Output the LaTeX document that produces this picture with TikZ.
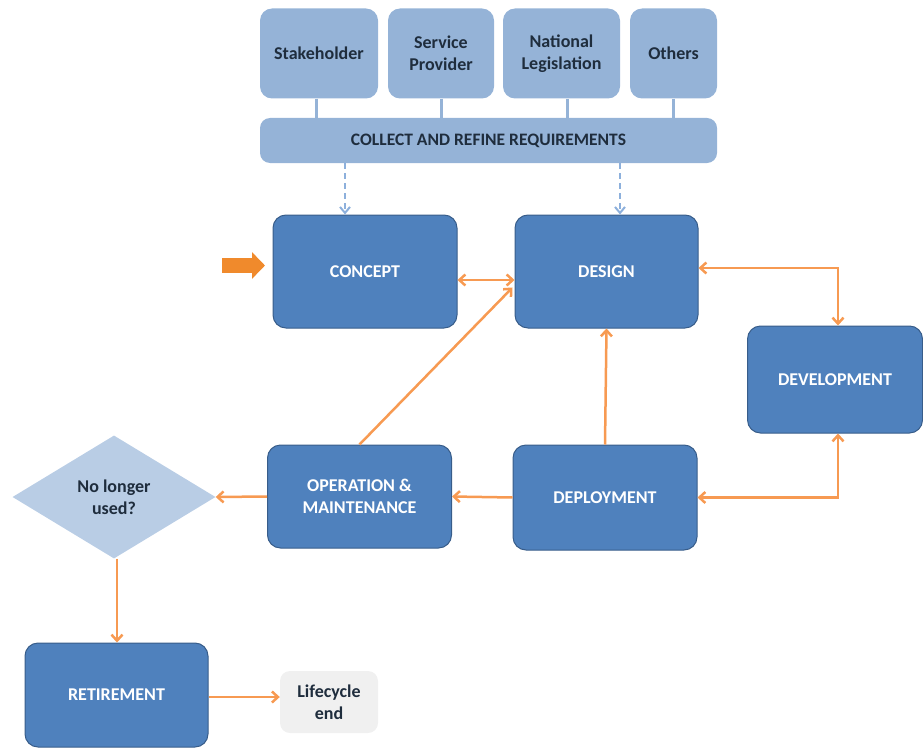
\documentclass[tikz,border=0pt]{standalone}
\usepackage{fontspec}
\setmainfont{Carlito}
\usetikzlibrary{shapes.geometric,arrows.meta,calc}
\definecolor{darkbox}{HTML}{4F81BD}
\definecolor{darkedge}{HTML}{385D8A}
\definecolor{lightbox}{HTML}{95B3D7}
\definecolor{paleblue}{HTML}{B9CDE5}
\definecolor{lighttext}{HTML}{1F2D3D}
\definecolor{flow}{HTML}{F79A52}
\definecolor{bigflow}{HTML}{F08A2C}
\definecolor{dashblue}{HTML}{8DB0DC}
\definecolor{endgray}{HTML}{F0F0F0}
\begin{document}
\begin{tikzpicture}[x=1pt,y=-1pt,
  phase/.style={draw=darkedge,line width=1pt,fill=darkbox,rounded corners=13pt,
    text=white,font=\bfseries\fontsize{18}{22}\selectfont,align=center,inner sep=0pt},
  source/.style={fill=lightbox,rounded corners=12pt,text=lighttext,
    font=\bfseries\fontsize{18}{22}\selectfont,align=center,inner sep=0pt,minimum height=90},
  feed/.style={draw=lightbox,line width=3pt},
  dasharrow/.style={draw=dashblue,line width=2pt,dashed,dash pattern=on 6pt off 4pt,
    -{Straight Barb[length=6pt,width=10pt]}},
  oarr/.style={draw=flow,line width=2.5pt,-{Straight Barb[length=6pt,width=11pt]}},
  oboth/.style={draw=flow,line width=2.5pt,{Straight Barb[length=6pt,width=11pt]}-{Straight Barb[length=6pt,width=11pt]}}]
\useasboundingbox (0,0) rectangle (923,749);

% requirement sources
\node[source,minimum width=118] (stake) at (319,53.5) {Stakeholder};
\node[source,minimum width=106] (prov) at (441,53.5) {Service\\Provider};
\node[source,minimum width=117] (legis) at (561.5,53.5) {National\\Legislation};
\node[source,minimum width=87] (others) at (673.5,53.5) {Others};
\node[fill=lightbox,rounded corners=10pt,text=lighttext,inner sep=0pt,
  minimum width=457,minimum height=45,font=\bfseries\fontsize{17.5}{20}\selectfont]
  (collect) at (488.5,140.5) {COLLECT AND REFINE REQUIREMENTS};

\coordinate (xs) at (316,0);
\coordinate (xp) at (441,0);
\coordinate (xl) at (567,0);
\coordinate (xo) at (673,0);
\draw[feed] (stake.south -| xs) -- (collect.north -| xs);
\draw[feed] (prov.south -| xp) -- (collect.north -| xp);
\draw[feed] (legis.south -| xl) -- (collect.north -| xl);
\draw[feed] (others.south -| xo) -- (collect.north -| xo);

% lifecycle phases
\node[phase,minimum width=184,minimum height=113] (concept) at (365,271.5) {CONCEPT};
\node[phase,minimum width=183,minimum height=113] (design) at (606.5,271.5) {DESIGN};
\node[phase,minimum width=175,minimum height=107] (dev) at (835,379.5) {DEVELOPMENT};
\node[phase,minimum width=184,minimum height=105] (deploy) at (605,497.5) {DEPLOYMENT};
\node[phase,minimum width=184,minimum height=103] (oper) at (359.5,496.5) {OPERATION \&\\MAINTENANCE};
\node[diamond,fill=paleblue,inner sep=0pt,minimum width=203,minimum height=123,
  text=lighttext,align=center,font=\bfseries\fontsize{18}{22}\selectfont]
  (unused) at (114,497) {No longer\\used?};
\node[phase,minimum width=183,minimum height=104] (retire) at (116.5,695) {RETIREMENT};
\node[fill=endgray,rounded corners=10pt,inner sep=0pt,minimum width=98,minimum height=62,
  text=lighttext,align=center,font=\bfseries\fontsize{18}{22}\selectfont]
  (finish) at (329,702) {Lifecycle\\end};

% requirements feeding concept and design
\coordinate (xc) at (345,0);
\coordinate (xd) at (620,0);
\draw[dasharrow] (collect.south -| xc) -- (concept.north -| xc);
\draw[dasharrow] (collect.south -| xd) -- (design.north -| xd);

% entry arrow
\coordinate (entry) at (222,265.5);
\coordinate (entrytip) at (265,265.5);
\draw[bigflow,line width=15pt,-{Triangle[length=13pt,width=26pt]}] (entry) -- (entrytip);

% flow between phases
\coordinate (yc) at (0,280);
\draw[oboth] (concept.east |- yc) -- (design.west |- yc);
\coordinate (yd) at (0,268);
\coordinate (xv) at (838,0);
\draw[oboth] (design.east |- yd) -| (dev.north -| xv);
\draw[oboth] (dev.south -| xv) |- (deploy.east);
\draw[oarr] (deploy.north) -- (design.south);
\draw[oarr] (deploy.west) -- (oper.east);
\draw[oarr] (oper.north) -- ($(design.west)+(-2,16)$);
\draw[oarr] (oper.west) -- (unused.east);
\coordinate (xr) at (117,0);
\draw[oarr] (unused.south -| xr) -- (retire.north -| xr);
\coordinate (ye) at (0,697);
\draw[oarr] (retire.east |- ye) -- (finish.west |- ye);
\end{tikzpicture}
\end{document}
